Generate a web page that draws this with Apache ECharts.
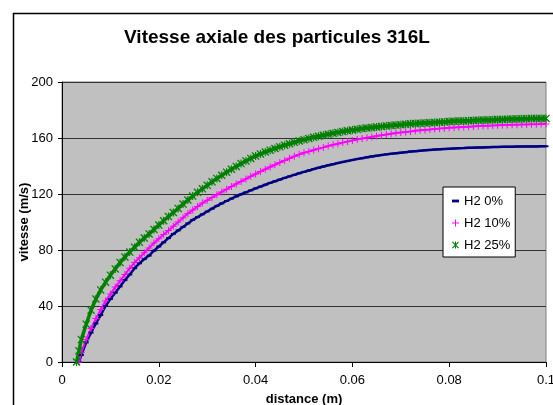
<!DOCTYPE html>
<html>
<head>
    <meta charset="utf-8" />
    <title>Vitesse axiale des particules 316L</title>
    <style>
    html, body { margin: 0; padding: 0; background: #fff; }
    #chart { width: 553px; height: 405px; }
    </style>
    <script src="https://cdn.jsdelivr.net/npm/echarts@6/dist/echarts.min.js"></script>
</head>
<body>
    <div id="chart"></div>
    <script>
    // distance (m), commune aux trois series
    var distance = [0.003, 0.0035, 0.004, 0.005, 0.006, 0.007, 0.008, 0.009, 0.010, 0.011, 0.012, 0.013,
        0.014, 0.015, 0.016, 0.017, 0.018, 0.019, 0.020, 0.021, 0.022, 0.023,
        0.024, 0.025, 0.026, 0.027, 0.028, 0.029, 0.030, 0.031, 0.032, 0.033,
        0.034, 0.035, 0.036, 0.037, 0.038, 0.039, 0.040, 0.041, 0.042, 0.043,
        0.044, 0.045, 0.046, 0.047, 0.048, 0.049, 0.050, 0.051, 0.052, 0.053,
        0.054, 0.055, 0.056, 0.057, 0.058, 0.059, 0.060, 0.061, 0.062, 0.063,
        0.064, 0.065, 0.066, 0.067, 0.068, 0.069, 0.070, 0.071, 0.072, 0.073,
        0.074, 0.075, 0.076, 0.077, 0.078, 0.079, 0.080, 0.081, 0.082, 0.083,
        0.084, 0.085, 0.086, 0.087, 0.088, 0.089, 0.090, 0.091, 0.092, 0.093,
        0.094, 0.095, 0.096, 0.097, 0.098, 0.099, 0.100];

    // vitesse (m/s)
    var h2_0 = [null, 0, 5, 14, 21, 27.5, 33.5, 40, 45, 49.5, 54, 58.5,
        62.5, 67, 70.5, 73.5, 76, 79.5, 82.5, 85.5, 88.5, 91.5,
        94, 96.5, 99, 101.5, 103.5, 105.5, 107.5, 109.5, 111.5, 113.3,
        115, 116.7, 118.3, 119.8, 121.2, 122.6, 124, 125.3, 126.6, 127.9,
        129.1, 130.3, 131.5, 132.6, 133.7, 134.8, 135.8, 136.8, 137.8, 138.7,
        139.6, 140.5, 141.3, 142.1, 142.9, 143.6, 144.3, 145, 145.6, 146.2,
        146.8, 147.3, 147.8, 148.3, 148.7, 149.1, 149.5, 149.9, 150.3, 150.6,
        150.9, 151.2, 151.5, 151.7, 151.9, 152.1, 152.3, 152.5, 152.7, 152.8,
        153, 153.1, 153.2, 153.3, 153.4, 153.5, 153.6, 153.7, 153.8, 153.8,
        153.9, 153.9, 154, 154, 154, 154.1, 154.1];

    var h2_10 = [null, 0, 7, 16, 24, 31, 37.5, 43.5, 48.5, 53.5, 58, 62.5,
        67, 71, 74.5, 78, 81.5, 85, 88, 91, 94, 97,
        100, 103, 106, 108.5, 111, 113.5, 115.5, 117.5, 119.5, 121.5,
        123.4, 125.3, 127.2, 129, 130.8, 132.6, 134.3, 136, 137.7, 139.3,
        140.9, 142.5, 144, 145.5, 146.9, 148.2, 149.4, 150.4, 151.4, 152.4,
        153.3, 154.2, 155.1, 155.9, 156.7, 157.5, 158.2, 158.9, 159.6, 160.2,
        160.8, 161.4, 162, 162.5, 163, 163.5, 163.9, 164.3, 164.7, 165.1,
        165.5, 165.8, 166.1, 166.4, 166.7, 167, 167.3, 167.5, 167.7, 167.9,
        168.1, 168.3, 168.5, 168.7, 168.8, 169, 169.1, 169.2, 169.3, 169.4,
        169.5, 169.6, 169.7, 169.8, 169.9, 170, 170];

    var h2_25 = [0, 8, 16, 27, 37, 45, 51.5, 57, 62, 66.5, 71, 75,
        78.5, 82, 85.5, 88.5, 91.5, 94.7, 97.8, 100.9, 103.9, 106.8,
        109.7, 112.8, 115.7, 118.5, 121.2, 123.7, 126.2, 128.7, 131.1, 133.4,
        135.6, 137.7, 139.7, 141.7, 143.6, 145.4, 147.1, 148.6, 150, 151.3,
        152.5, 153.7, 154.8, 155.9, 156.9, 157.9, 158.8, 159.7, 160.5, 161.3,
        162, 162.7, 163.4, 164, 164.6, 165.2, 165.7, 166.2, 166.7, 167.1,
        167.5, 167.9, 168.3, 168.6, 168.9, 169.2, 169.5, 169.8, 170.1, 170.3,
        170.5, 170.7, 170.9, 171.1, 171.3, 171.5, 171.7, 171.9, 172.1, 172.2,
        172.4, 172.5, 172.7, 172.8, 172.9, 173.1, 173.2, 173.3, 173.4, 173.5,
        173.6, 173.7, 173.8, 173.9, 173.9, 174, 174];

    var seriesNames = ['H2 0%', 'H2 10%', 'H2 25%'];
    var xTickLabels = ['0', '0.02', '0.04', '0.06', '0.08', '0.1'];

    // marqueurs facon Excel
    var dashIcon = 'path://M0,3h5v2h-5z';
    var plusIcon = 'path://M3,0h1v7h-1z M0,3h7v1h-7z';
    var starIcon = 'path://M0,0.8L0.8,0L7,6.2L6.2,7Z M6.2,0L7,0.8L0.8,7L0,6.2Z M3,0h1v7h-1z';

    function toPoints(values) {
        var pts = [];
        values.forEach(function(v, i) {
            if (v !== null) pts.push([distance[i], v]);
        });
        return pts;
    }

    var font = 'Arial, "Liberation Sans", sans-serif';

    var option = {
        animation: false,
        title: {
            text: 'Vitesse axiale des particules 316L',
            left: 272,
            textAlign: 'center',
            top: 23,
            textStyle: { fontFamily: font, fontSize: 19, fontWeight: 'bold', color: '#000' }
        },
        graphic: [{
            type: 'rect',
            left: 11, top: 11,
            shape: { width: 600, height: 500 },
            style: { fill: 'none', stroke: '#000', lineWidth: 1.5 },
            z: -1
        }],
        legend: {
            orient: 'vertical',
            left: 443,
            top: 187,
            padding: [7, 5, 5, 9],
            itemGap: 8,
            itemWidth: 7,
            itemHeight: 7,
            backgroundColor: '#fff',
            borderColor: '#000',
            borderWidth: 1,
            borderRadius: 0,
            textStyle: { fontFamily: font, fontSize: 13, color: '#000', lineHeight: 14 },
            data: [
                { name: seriesNames[0], icon: dashIcon },
                { name: seriesNames[1], icon: plusIcon },
                { name: seriesNames[2], icon: starIcon }
            ]
        },
        grid: {
            left: 62,
            top: 82,
            right: 7,
            bottom: 43,
            outerBoundsMode: 'none',
            containLabel: false,
            show: true,
            backgroundColor: '#c0c0c0',
            borderColor: '#808080',
            borderWidth: 1
        },
        xAxis: {
            type: 'value',
            min: 0,
            max: 0.1,
            interval: 0.02,
            name: 'distance (m)',
            nameLocation: 'middle',
            nameGap: 31,
            nameMoveOverlap: false,
            nameTextStyle: { fontFamily: font, fontSize: 13, fontWeight: 'bold', color: '#000' },
            axisLine: { lineStyle: { color: '#000', width: 1 } },
            axisTick: { show: true, length: 5, lineStyle: { color: '#000' } },
            axisLabel: {
                fontFamily: font, fontSize: 13, color: '#000', margin: 12,
                formatter: function(v) { return xTickLabels[Math.round(v / 0.02)]; }
            },
            splitLine: { show: false }
        },
        yAxis: {
            type: 'value',
            min: 0,
            max: 200,
            interval: 40,
            name: 'vitesse (m/s)',
            nameLocation: 'middle',
            nameGap: 31,
            nameMoveOverlap: false,
            nameTextStyle: { fontFamily: font, fontSize: 13, fontWeight: 'bold', color: '#000' },
            axisLine: { show: true, lineStyle: { color: '#000', width: 1 } },
            axisTick: { show: true, length: 4, lineStyle: { color: '#000' } },
            axisLabel: { fontFamily: font, fontSize: 13, color: '#000', margin: 9 },
            splitLine: { show: true, lineStyle: { color: '#303030', width: 1 } }
        },
        series: [{
            name: seriesNames[0],
            type: 'line',
            data: toPoints(h2_0),
            color: '#000080',
            symbol: 'rect',
            symbolSize: [5, 2],
            showAllSymbol: true,
            lineStyle: { width: 2.5, color: '#000080' },
            itemStyle: { color: '#000080' }
        }, {
            name: seriesNames[1],
            type: 'line',
            data: toPoints(h2_10),
            color: '#ff00ff',
            symbol: plusIcon,
            symbolSize: 7,
            showAllSymbol: true,
            lineStyle: { width: 2, color: '#ff00ff' },
            itemStyle: { color: '#ff00ff' }
        }, {
            name: seriesNames[2],
            type: 'line',
            data: toPoints(h2_25),
            color: '#008000',
            symbol: starIcon,
            symbolSize: 8,
            showAllSymbol: true,
            lineStyle: { width: 3.5, color: '#008000' },
            itemStyle: { color: '#008000' }
        }]
    };

    var chart = echarts.init(document.getElementById('chart'));
    chart.setOption(option);
    </script>
</body>
</html>
